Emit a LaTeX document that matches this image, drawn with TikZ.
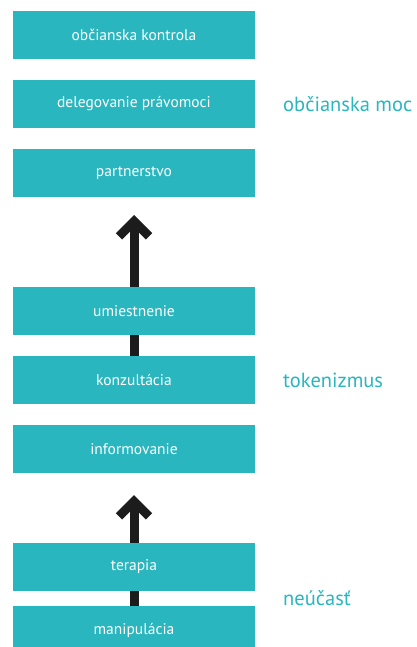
\documentclass[tikz,border=0pt]{standalone}
\usepackage{fontspec}
\setmainfont{PT Sans}
\usetikzlibrary{positioning,arrows.meta,calc,backgrounds}
\definecolor{tyrkys}{HTML}{2AB6BF}
\definecolor{tmava}{HTML}{1C1C1C}
\tikzset{
  stupen/.style={fill=tyrkys, text=white, minimum width=242pt, minimum height=48pt,
    outer sep=0pt, inner sep=0pt, font=\fontsize{15.5}{18}\selectfont},
  skupina/.style={text=tyrkys, inner sep=0pt, font=\fontsize{20.5}{24}\selectfont},
  sipka/.style={line width=9pt, draw=tmava, -{Straight Barb[length=15pt,width=30pt]}}
}

\begin{document}
\begin{tikzpicture}[x=1pt,y=1pt]
		%%%%% START %%%%%
		\useasboundingbox (0,0) rectangle (417,-647);
		
		% stupne ucasti
		\node[stupen] (kontrola) at (134,-35) {občianska kontrola};
		\node[stupen, below=21pt of kontrola] (delegovanie) {delegovanie právomoci};
		\node[stupen, below=21pt of delegovanie] (partnerstvo) {partnerstvo};
		\node[stupen, below=90pt of partnerstvo] (umiestnenie) {umiestnenie};
		\node[stupen, below=21pt of umiestnenie] (konzultacia) {konzultácia};
		\node[stupen, below=21pt of konzultacia] (informovanie) {informovanie};
		\node[stupen, below=70pt of informovanie] (terapia) {terapia};
		\node[stupen, below=15pt of terapia] (manipulacia) {manipulácia};
		
		% skupiny
		\node[skupina, right=28pt of delegovanie] (moc) {občianska moc};
		\node[skupina, right=28pt of konzultacia] (tokenizmus) {tokenizmus};
		\coordinate (medzera) at ($(terapia.south east)!0.5!(manipulacia.north east)$);
		\node[skupina, right=28pt of medzera] (neucast) {neúčasť};
		
		% sipky
		\coordinate[above=72pt of umiestnenie.north] (hrot1);
		\coordinate[below=22pt of informovanie.south] (hrot2);
		\begin{scope}[on background layer]
			\draw[sipka] (konzultacia.north) -- (hrot1);
			\draw[sipka] (manipulacia.north) -- (hrot2);
		\end{scope}
		
		%%%%% END %%%%%
	\end{tikzpicture}
\end{document}
